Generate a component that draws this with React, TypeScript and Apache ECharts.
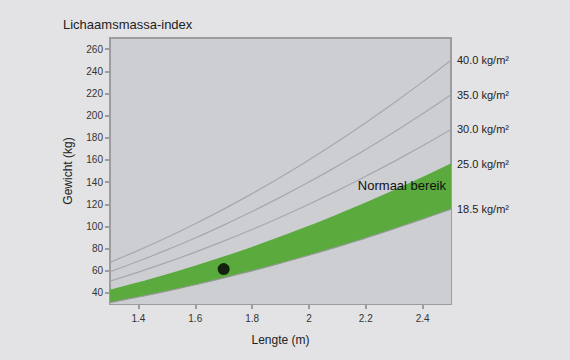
import React, { useEffect, useRef } from "react";
import * as echarts from "echarts";

const heights = [1.3, 1.4, 1.5, 1.6, 1.7, 1.8, 1.9, 2.0, 2.1, 2.2, 2.3, 2.4, 2.5];
const bmi185 = [31.3, 36.3, 41.6, 47.4, 53.5, 59.9, 66.8, 74.0, 81.6, 89.5, 97.9, 106.6, 115.6];
const bmi25 = [42.3, 49.0, 56.3, 64.0, 72.3, 81.0, 90.3, 100.0, 110.3, 121.0, 132.3, 144.0, 156.3];
const bmi30 = [50.7, 58.8, 67.5, 76.8, 86.7, 97.2, 108.3, 120.0, 132.3, 145.2, 158.7, 172.8, 187.5];
const bmi35 = [59.2, 68.6, 78.8, 89.6, 101.2, 113.4, 126.4, 140.0, 154.4, 169.4, 185.2, 201.6, 218.8];
const bmi40 = [67.6, 78.4, 90.0, 102.4, 115.6, 129.6, 144.4, 160.0, 176.4, 193.6, 211.6, 230.4, 250.0];
const lineLabels = ["40.0 kg/m²", "35.0 kg/m²", "30.0 kg/m²", "25.0 kg/m²", "18.5 kg/m²"];
const yTicks = [40, 60, 80, 100, 120, 140, 160, 180, 200, 220, 240, 260];
const xTicks = [1.4, 1.6, 1.8, 2.0, 2.2, 2.4];
const person = [[1.7, 61.5]];

const FONT = "'Liberation Sans', Arial, sans-serif";
const PLOT_BG = "#cdced2";
const GREEN = "#5aaa3e";

export default function App() {
  const ref = useRef<HTMLDivElement>(null);
  useEffect(() => {
    if (!ref.current) return;
    const chart = echarts.init(ref.current, undefined, { renderer: "svg" });
    const pts = (vals: number[]) => heights.map((h, i) => [h, vals[i]]);
    const line = (name: string, vals: number[], color: string, area: string | null, z: number) => ({
      type: "line",
      name,
      data: pts(vals),
      smooth: 0.3,
      symbol: "none",
      lineStyle: { color, width: 1.2 },
      areaStyle: area ? { color: area, opacity: 1, origin: "start" } : undefined,
      endLabel: {
        show: true,
        formatter: name,
        color: "#222",
        fontSize: 11,
        fontFamily: FONT,
        distance: 6,
      },
      z,
    });
    chart.setOption({
      animation: false,
      backgroundColor: "#e3e3e5",
      textStyle: { fontFamily: FONT },
      title: {
        text: "Lichaamsmassa-index",
        left: 58,
        top: 13,
        textStyle: { fontSize: 13, fontWeight: "normal", color: "#222", fontFamily: FONT },
      },
      grid: {
        left: 110,
        right: 119,
        top: 38,
        bottom: 56,
        show: true,
        backgroundColor: PLOT_BG,
        borderColor: "#9c9c9e",
        borderWidth: 2,
      },
      xAxis: {
        type: "value",
        min: 1.3,
        max: 2.5,
        name: "Lengte (m)",
        nameLocation: "middle",
        nameGap: 30,
        nameTextStyle: { fontSize: 12, color: "#222", fontFamily: FONT },
        axisLine: { show: false },
        axisTick: { show: true, length: 5, lineStyle: { color: "#9c9c9e", width: 2 }, customValues: xTicks },
        axisLabel: {
          customValues: xTicks,
          fontSize: 10,
          color: "#333",
          margin: 9,
          formatter: (v: number) => String(+v.toFixed(1)),
        },
        splitLine: { show: false },
      },
      yAxis: {
        type: "value",
        min: 30,
        max: 270,
        name: "Gewicht (kg)",
        nameLocation: "middle",
        nameGap: 36,
        nameTextStyle: { fontSize: 12, color: "#222", fontFamily: FONT },
        axisLine: { show: false },
        axisTick: { show: true, length: 5, lineStyle: { color: "#9c9c9e", width: 2 }, customValues: yTicks },
        axisLabel: { customValues: yTicks, fontSize: 10, color: "#333", margin: 7 },
        splitLine: { show: false },
      },
      graphic: [
        {
          type: "text",
          right: 124,
          top: 179,
          z: 10,
          style: { text: "Normaal bereik", fontSize: 13, fill: "#111", fontFamily: FONT },
        },
      ],
      series: [
        line(lineLabels[0], bmi40, "#a7a8ac", null, 4),
        line(lineLabels[1], bmi35, "#a7a8ac", null, 4),
        line(lineLabels[2], bmi30, "#a7a8ac", null, 4),
        line(lineLabels[3], bmi25, GREEN, GREEN, 1),
        line(lineLabels[4], bmi185, "#949a94", PLOT_BG, 2),
        {
          type: "scatter",
          data: person,
          symbolSize: 12,
          itemStyle: { color: "#000" },
          z: 5,
        },
      ],
    });
    return () => chart.dispose();
  }, []);
  return (
    <div
      ref={ref}
      style={{ position: "fixed", left: 0, top: 0, width: 570, height: 360 }}
    />
  );
}
